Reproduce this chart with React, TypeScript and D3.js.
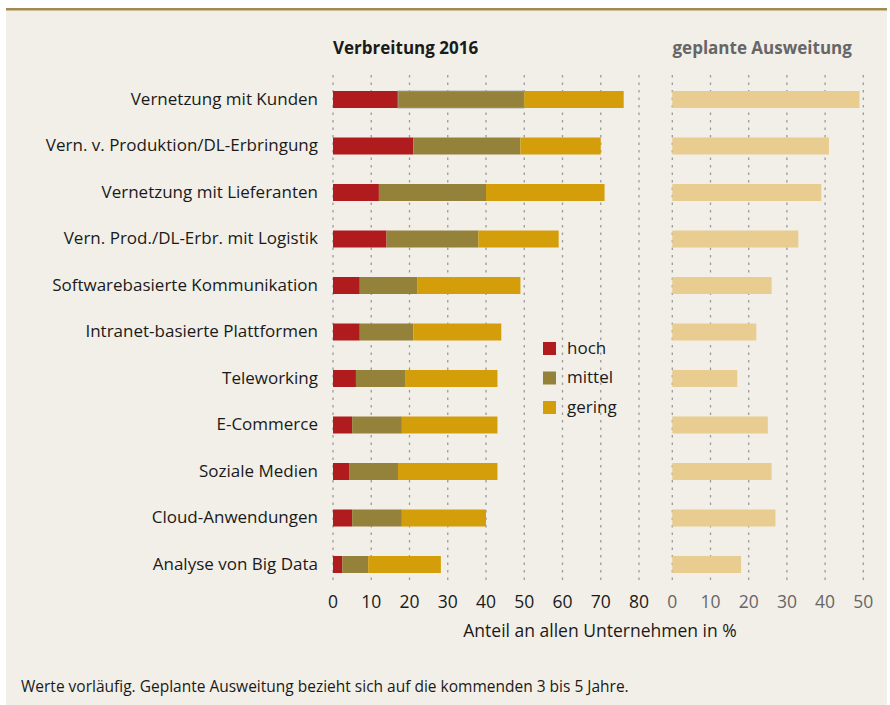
import React from "react";
import * as d3 from "d3";

const categories = [
  "Vernetzung mit Kunden",
  "Vern. v. Produktion/DL-Erbringung",
  "Vernetzung mit Lieferanten",
  "Vern. Prod./DL-Erbr. mit Logistik",
  "Softwarebasierte Kommunikation",
  "Intranet-basierte Plattformen",
  "Teleworking",
  "E-Commerce",
  "Soziale Medien",
  "Cloud-Anwendungen",
  "Analyse von Big Data",
];
const hoch = [17, 21, 12, 14, 7, 7, 6, 5, 4.2, 5, 2.4];
const mittel = [33, 28, 28, 24, 15, 14, 13, 13, 12.8, 13, 6.8];
const gering = [26, 21, 31, 21, 27, 23, 24, 25, 26, 22, 19];
const geplant = [49, 41, 39, 33, 26, 22, 17, 25, 26, 27, 18];
const leftTicks = [0, 10, 20, 30, 40, 50, 60, 70, 80];
const rightTicks = [0, 10, 20, 30, 40, 50];
const seriesNames = ["hoch", "mittel", "gering"];
const seriesColors = ["#b01c1e", "#94813a", "#d49e0a"];

const FONT = "'Open Sans', 'Noto Sans', sans-serif";

export default function App() {
  const W = 890, H = 705;
  const xL = d3.scaleLinear().domain([0, 80]).range([333, 639]);
  const xR = d3.scaleLinear().domain([0, 50]).range([672.3, 863.3]);
  const y = d3.scalePoint<string>().domain(categories).range([99.5, 564.5]);
  const barH = 17;
  const gridTop = 75, gridBottom = 583;

  const rows = categories.map((c, i) => ({ c, h: hoch[i], m: mittel[i], g: gering[i], p: geplant[i] }));
  const stack = d3.stack<any>().keys(["h", "m", "g"])(rows as any);

  return (
    <svg width={W} height={H} style={{ position: "absolute", left: 0, top: 0 }} fontFamily={FONT}>
      <rect x={6} y={8} width={881} height={697} fill="#f2efe8" />
      <rect x={6} y={8} width={881} height={2.5} fill="#a38a4e" />

      {/* gridlines */}
      {leftTicks.map((t) => (
        <line key={"gl" + t} x1={xL(t)} x2={xL(t)} y1={gridTop} y2={gridBottom} stroke="#9a9a9a" strokeWidth={1.3} strokeDasharray="2.5,5" />
      ))}
      {rightTicks.map((t) => (
        <line key={"gr" + t} x1={xR(t)} x2={xR(t)} y1={gridTop} y2={gridBottom} stroke="#9a9a9a" strokeWidth={1.3} strokeDasharray="2.5,5" />
      ))}

      {/* stacked bars */}
      {stack.map((s, si) => (
        <g key={"s" + si} fill={seriesColors[si]}>
          {s.map((d: any, i: number) => (
            <rect key={i} x={xL(d[0])} y={(y(categories[i]) as number) - barH / 2} width={xL(d[1]) - xL(d[0])} height={barH}
              stroke={si === 1 && i === 0 ? "#a0a0a0" : "none"} strokeWidth={0.8} />
          ))}
        </g>
      ))}

      {/* planned bars */}
      {rows.map((r, i) => (
        <rect key={"p" + i} x={xR(0)} y={(y(r.c) as number) - barH / 2} width={xR(r.p) - xR(0)} height={barH} fill="#e9cc8f" />
      ))}

      {/* category labels */}
      {categories.map((c) => (
        <text key={c} x={318} y={(y(c) as number) + 5} textAnchor="end" fontSize={17} fill="#1a1a1a">{c}</text>
      ))}

      {/* titles */}
      <text x={333} y={54} fontSize={17} fontWeight="bold" fill="#1a1a1a">Verbreitung 2016</text>
      <text x={672.5} y={54} fontSize={17} fontWeight="bold" fill="#666">geplante Ausweitung</text>

      {/* tick labels */}
      {leftTicks.map((t) => (
        <text key={"tl" + t} x={xL(t)} y={608} textAnchor="middle" fontSize={17.5} fill="#1a1a1a">{t}</text>
      ))}
      {rightTicks.map((t) => (
        <text key={"tr" + t} x={xR(t)} y={608} textAnchor="middle" fontSize={17.5} fill="#666">{t}</text>
      ))}
      <text x={600} y={637} textAnchor="middle" fontSize={17.5} fill="#1a1a1a">Anteil an allen Unternehmen in %</text>

      {/* legend */}
      {seriesNames.map((n, i) => (
        <g key={n} transform={`translate(543, ${342 + i * 29.5})`}>
          <rect x={0} y={0} width={13} height={13} fill={seriesColors[i]} />
          <text x={24} y={11.5} fontSize={17} fill="#1a1a1a">{n}</text>
        </g>
      ))}

      <text x={21} y={692} fontSize={15.5} fill="#1a1a1a">Werte vorläufig. Geplante Ausweitung bezieht sich auf die kommenden 3 bis 5 Jahre.</text>
    </svg>
  );
}
